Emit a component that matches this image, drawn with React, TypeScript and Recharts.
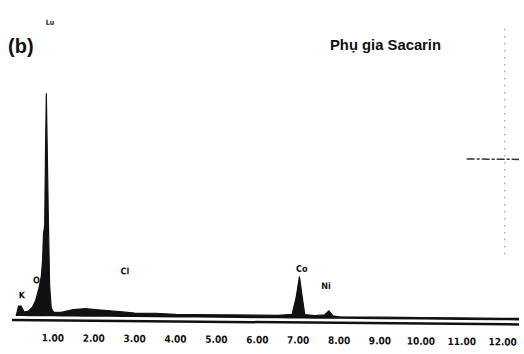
import React from "react";
import {
  AreaChart,
  Area,
  XAxis,
  YAxis,
  ReferenceDot,
  ReferenceLine,
} from "recharts";

// EDS spectrum (energy in keV, counts in arbitrary units)
const energies = [
  0.1, 0.16, 0.22, 0.3, 0.4, 0.5, 0.58, 0.66, 0.72, 0.75, 0.77, 0.8, 0.82,
  0.84, 0.86, 0.89, 0.92, 0.96, 1.02, 1.2, 1.5, 1.8, 2.1, 2.4, 2.7, 3.0, 3.5,
  4.0, 4.5, 5.0, 5.5, 6.0, 6.5, 6.85, 6.95, 7.03, 7.1, 7.16, 7.4, 7.65, 7.75,
  7.85, 8.0, 9.0, 10.0, 11.0, 12.0, 12.4,
];
const counts = [
  4, 14, 14, 8, 9, 13, 20, 32, 45, 62, 86, 95, 170, 227, 175, 100, 35, 12, 8,
  8, 11, 12, 11, 10, 9, 8, 8, 7, 7, 7, 7, 7, 7, 8, 25, 46, 25, 8, 7, 8, 12, 7,
  6, 6, 6, 6, 6, 6,
];

const tickValues = [1, 2, 3, 4, 5, 6, 7, 8, 9, 10, 11, 12];

const peakNames = ["Lu", "K", "O", "Cl", "Co", "Ni"];
const peakKev = [0.93, 0.24, 0.6, 2.76, 7.09, 7.68];
const peakCounts = [298, 25, 40, 50, 54, 37];

const data = energies.map((kev, i) => ({ kev, counts: counts[i] }));
const peaks = peakNames.map((name, i) => ({ name, kev: peakKev[i], y: peakCounts[i] }));

const narrow = "'Liberation Sans Narrow', 'DejaVu Sans Condensed', sans-serif";

export default function App() {
  return (
    <div
      style={{
        position: "absolute",
        left: 0,
        top: 0,
        width: 524,
        height: 354,
        background: "#fff",
        overflow: "hidden",
      }}
    >
      {/* the scan is a little skewed: the axis drops slightly to the right */}
      <div style={{ transform: "skewY(0.5deg)", transformOrigin: "12px 320px" }}>
        <AreaChart
          width={524}
          height={354}
          data={data}
          margin={{ top: 20, right: 5, left: 12, bottom: 4 }}
        >
          <XAxis
            dataKey="kev"
            type="number"
            domain={[0, 12.4]}
            ticks={tickValues}
            tickFormatter={(v: number) => v.toFixed(2)}
            axisLine={{ stroke: "#111", strokeWidth: 2.5 }}
            tickLine={false}
            tickMargin={8}
            height={30}
            tick={{ fill: "#111", fontSize: 10, fontWeight: 700, fontFamily: narrow }}
          />
          <YAxis type="number" domain={[0, 300]} hide width={0} />
          <ReferenceLine
            segment={[
              { x: 12.05, y: 70 },
              { x: 12.05, y: 300 },
            ]}
            stroke="#888"
            strokeWidth={1.5}
            strokeDasharray="1 6"
          />
          <ReferenceLine
            segment={[
              { x: 11.12, y: 165 },
              { x: 12.4, y: 165 },
            ]}
            stroke="#333"
            strokeWidth={1.5}
            strokeDasharray="8 2 3 2"
          />
          <Area
            type="linear"
            dataKey="counts"
            baseValue={4}
            stroke="#111"
            strokeWidth={1.2}
            fill="#111"
            fillOpacity={1}
            isAnimationActive={false}
            dot={false}
            activeDot={false}
          />
          {peaks.map((p) => (
            <ReferenceDot
              key={p.name}
              x={p.kev}
              y={p.y}
              r={0}
              fill="none"
              stroke="none"
              label={{
                value: p.name,
                position: "center",
                fill: "#111",
                fontSize: p.name === "Lu" ? 7 : 9,
                fontWeight: 700,
                fontFamily: narrow,
              }}
            />
          ))}
        </AreaChart>
      </div>
      <div
        style={{
          position: "absolute",
          left: 8,
          top: 35,
          fontFamily: "'Liberation Sans', Arial, sans-serif",
          fontWeight: 700,
          fontSize: 20,
          color: "#111",
        }}
      >
        (b)
      </div>
      <div
        style={{
          position: "absolute",
          left: 330,
          top: 37,
          fontFamily: "'Liberation Sans', Arial, sans-serif",
          fontWeight: 700,
          fontSize: 14.8,
          color: "#111",
        }}
      >
        Phụ gia Sacarin
      </div>
    </div>
  );
}
